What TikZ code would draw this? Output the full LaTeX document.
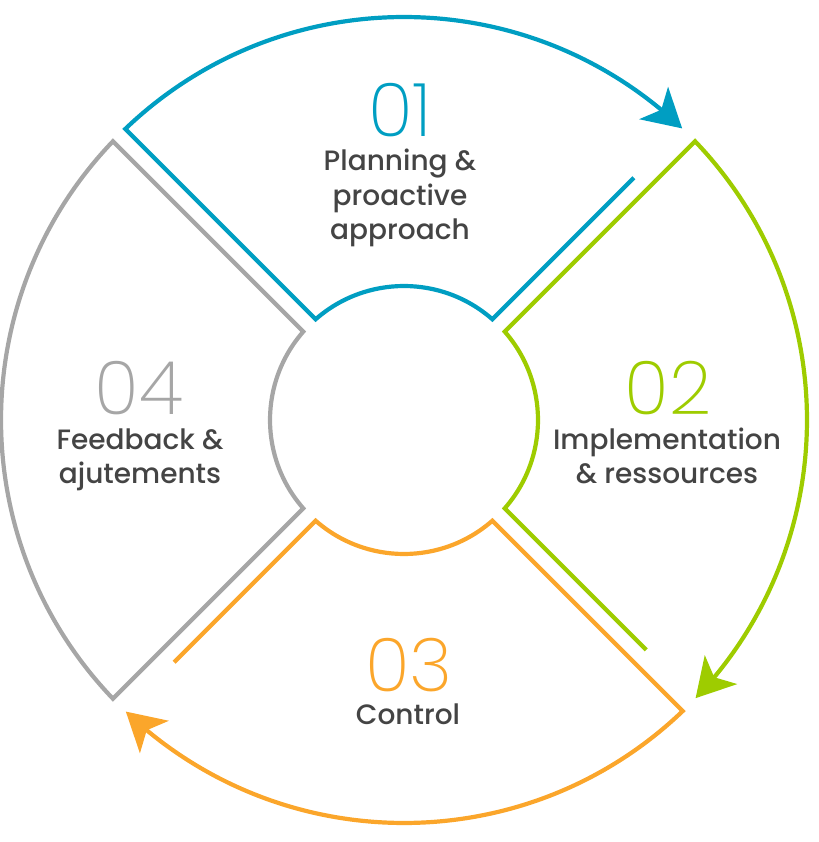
\documentclass[tikz,border=0pt]{standalone}
\usepackage{fontspec}
\setmainfont{Poppins}
\newfontfamily\numfont{Poppins ExtraLight}
\newfontfamily\txtfont{Poppins Medium}
\usetikzlibrary{arrows.meta,bending}
\definecolor{cblue}{RGB}{0,158,194}
\definecolor{cgreen}{RGB}{158,204,0}
\definecolor{corange}{RGB}{251,166,43}
\definecolor{cgray}{RGB}{166,166,166}
\definecolor{txtgray}{RGB}{68,68,68}
\begin{document}
\begin{tikzpicture}[x=1pt,y=1pt,
  ring/.style={line width=4.2pt, line join=miter},
  tipped/.style={-{Stealth[length=38pt,width=43pt,inset=10pt]}},
  num/.style={font=\numfont\fontsize{74}{74}\selectfont, anchor=base, inner sep=0pt},
  lbl/.style={font=\txtfont\fontsize{28}{32}\selectfont, text=txtgray, anchor=base, inner sep=0pt}]
\useasboundingbox (-404,-422) rectangle (414,420);
\pgfmathsetmacro{\di}{asin(8.8/134)}
\pgfmathsetmacro{\do}{asin(8.8/403)}
\pgfmathsetmacro{\ds}{asin(8.8/334)}
\def\sweep{87.4}
% blue
\coordinate (b1) at ({135-\do}:403);
\coordinate (b3) at ({45+\di}:134);
\coordinate (b4) at ({45+\ds}:334);
\draw[ring, cblue, tipped] (b4) -- (b3) arc[start angle={45+\di}, end angle={135-\di}, radius=134pt] -- (b1)
  arc[start angle={135-\do}, end angle={135-\do-\sweep}, radius=403pt];
% green
\coordinate (g1) at ({45-\do}:403);
\coordinate (g3) at ({-45+\di}:134);
\coordinate (g4) at ({-45+\ds}:334);
\draw[ring, cgreen, tipped] (g4) -- (g3) arc[start angle={-45+\di}, end angle={45-\di}, radius=134pt] -- (g1)
  arc[start angle={45-\do}, end angle={45-\do-\sweep}, radius=403pt];
% orange
\coordinate (o1) at ({-45-\do}:403);
\coordinate (o3) at ({-135+\di}:134);
\coordinate (o4) at ({-135+\ds}:334);
\draw[ring, corange, tipped] (o4) -- (o3) arc[start angle={-135+\di}, end angle={-45-\di}, radius=134pt] -- (o1)
  arc[start angle={-45-\do}, end angle={-45-\do-\sweep}, radius=403pt];
% gray
\coordinate (k1) at ({135+\do}:403);
\coordinate (k2) at ({135+\di}:134);
\coordinate (k3) at ({225-\do}:403);
\draw[ring, cgray] (k1) -- (k2) arc[start angle={135+\di}, end angle={225-\di}, radius=134pt] -- (k3)
  arc[start angle={225-\do}, end angle={135+\do}, radius=403pt] -- cycle;
% texts
\node[num, text=cblue] (n1) at (-4,283) {01};
\node[lbl] (t1a) at (-4,249) {Planning \&};
\node[lbl] (t1b) at (-4,214.5) {proactive};
\node[lbl] (t1c) at (-4,180) {approach};
\node[num, text=cgreen] (n2) at (264,5) {02};
\node[lbl] (t2a) at (263,-30) {Implementation};
\node[lbl] (t2b) at (263,-64) {\& ressources};
\node[num, text=corange] (n3) at (5,-271) {03};
\node[lbl] (t3a) at (4,-304) {Control};
\node[num, text=cgray] (n4) at (-265,5) {04};
\node[lbl] (t4a) at (-264,-30) {Feedback \&};
\node[lbl] (t4b) at (-264,-64) {ajutements};
\end{tikzpicture}
\end{document}
